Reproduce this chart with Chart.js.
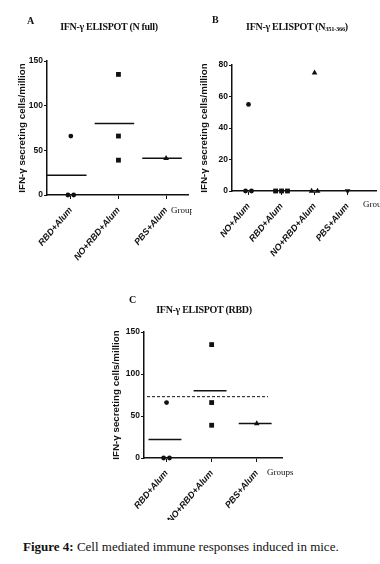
<!DOCTYPE html>
<html>
<head>
<meta charset="utf-8">
<script src="https://cdn.jsdelivr.net/npm/chart.js@4.4.1/dist/chart.umd.min.js"></script>
<style>
  html, body { margin: 0; padding: 0; background: #fff; overflow: hidden; }
  #wrap { position: relative; width: 380px; height: 564px; background: #fff; }
  canvas { position: absolute; }
  .txt { position: absolute; font-family: "Liberation Serif", "Times New Roman", serif; color: #111; white-space: nowrap; }
  .letter { font-weight: bold; font-size: 10px; }
  .title { font-weight: bold; font-size: 10px; letter-spacing: -0.3px; transform: translateX(-50%); }
  .groups { font-size: 9px; overflow: hidden; }
  sub { font-size: 6.5px; vertical-align: -1px; }
</style>
</head>
<body>
<div id="wrap">
  <canvas id="chartA" width="192" height="266" style="left:0;top:0"></canvas>
  <canvas id="chartB" width="190" height="266" style="left:190px;top:0"></canvas>
  <canvas id="chartC" width="200" height="250" style="left:100px;top:270px"></canvas>

  <div class="txt letter" style="left:27px;top:15px">A</div>
  <div class="txt title" style="left:109px;top:21px">IFN-γ ELISPOT (N full)</div>
  <div class="txt groups" style="left:171px;top:205px;width:21px">Groups</div>

  <div class="txt letter" style="left:212px;top:14px">B</div>
  <div class="txt title" style="left:297px;top:21px">IFN-γ ELISPOT (N<sub>351-366</sub>)</div>
  <div class="txt groups" style="left:363px;top:199px">Groups</div>

  <div class="txt letter" style="left:129px;top:294px">C</div>
  <div class="txt title" style="left:204px;top:304px">IFN-γ ELISPOT (RBD)</div>
  <div class="txt groups" style="left:267px;top:467px">Groups</div>

  <div class="txt" style="left:23px;top:539px;font-size:13px"><b>Figure 4:</b> Cell mediated immune responses induced in mice.</div>
</div>
<script>
// panel A - N full
const groupsA = ['RBD+Alum', 'NO+RBD+Alum', 'PBS+Alum'];
const valuesA = [[66, 0, 0], [135, 66, 39], [41]];
const yTicksA = [0, 50, 100, 150];

// panel B - N351-366
const groupsB = ['NO+Alum', 'RBD+Alum', 'NO+RBD+Alum', 'PBS+Alum'];
const valuesB = [[55, 0, 0], [0, 0, 0], [75, 0, 0], [0]];
const yTicksB = [0, 20, 40, 60, 80];

// panel C - RBD
const groupsC = ['RBD+Alum', 'NO+RBD+Alum', 'PBS+Alum'];
const valuesC = [[66, 0, 0], [135, 66, 39], [41]];
const yTicksC = [0, 50, 100, 150];
const cutoffC = 73;

const yTitle = 'IFN-γ secreting cells/million';
const tickFont = { family: 'Liberation Sans, Arial, sans-serif', size: 8.5, weight: 'bold' };
const labelFont = { family: 'Liberation Sans, Arial, sans-serif', size: 9, weight: 'bold', style: 'italic' };

// spread out identical values side by side, like prism does
function makePoints(values, jitter) {
    const pts = [];
    values.forEach((vals, i) => {
        const seen = {};
        vals.forEach(v => { seen[v] = (seen[v] || 0) + 1; });
        const used = {};
        vals.forEach(v => {
            const n = seen[v];
            const k = used[v] || 0;
            used[v] = k + 1;
            pts.push({ x: i + (k - (n - 1) / 2) * jitter, y: v, g: i });
        });
    });
    return pts;
}

function mean(arr) {
    return arr.reduce((a, b) => a + b, 0) / arr.length;
}

// dashed cut-off line across the plot
const cutoffPlugin = {
    id: 'cutoff',
    afterDatasetsDraw(chart, args, opts) {
        if (opts.value == null) return;
        const { ctx, chartArea, scales } = chart;
        const y = scales.y.getPixelForValue(opts.value);
        ctx.save();
        ctx.strokeStyle = '#111';
        ctx.lineWidth = 1;
        ctx.setLineDash([3, 2]);
        ctx.beginPath();
        ctx.moveTo(chartArea.left + 3, y);
        ctx.lineTo(chartArea.right - 14, y);
        ctx.stroke();
        ctx.restore();
    }
};

// marker size per shape so they look about the same on screen
const shapeRadius = { circle: 2.4, rect: 3.4, triangle: 3.3 };

function makeChart(id, groups, values, yTicks, cfg) {
    const pts = makePoints(values, cfg.jitter);
    const datasets = [{
        type: 'scatter',
        data: pts,
        pointStyle: pts.map(p => cfg.shapes[p.g]),
        rotation: pts.map(p => cfg.rotation ? cfg.rotation[p.g] : 0),
        pointRadius: pts.map(p => shapeRadius[cfg.shapes[p.g]]),
        backgroundColor: '#111',
        borderColor: '#111',
        borderWidth: 0,
        clip: false
    }];

    if (cfg.means) {
        values.forEach((vals, i) => {
            const m = mean(vals);
            datasets.push({
                type: 'line',
                data: [{ x: i - cfg.meanLeft, y: m }, { x: i + cfg.meanRight, y: m }],
                borderColor: '#111',
                borderWidth: 1.5,
                pointRadius: 0,
                clip: false
            });
        });
    }

    return new Chart(document.getElementById(id), {
        type: 'scatter',
        data: { datasets: datasets },
        options: {
            responsive: false,
            animation: false,
            events: [],
            layout: { padding: cfg.padding },
            plugins: {
                legend: { display: false },
                tooltip: { enabled: false },
                cutoff: { value: cfg.cutoff }
            },
            scales: {
                x: {
                    type: 'linear',
                    min: cfg.xmin,
                    max: cfg.xmax,
                    afterBuildTicks: axis => { axis.ticks = groups.map((g, i) => ({ value: i })); },
                    afterFit: axis => { axis.height = cfg.xHeight; },
                    ticks: {
                        autoSkip: false,
                        minRotation: 50,
                        maxRotation: 50,
                        padding: 6,
                        color: '#111',
                        font: labelFont,
                        callback: v => groups[v]
                    },
                    grid: { display: true, drawOnChartArea: false, drawTicks: true, tickLength: 4, color: '#111', lineWidth: 1 },
                    border: { display: true, color: '#111', width: 1.5 }
                },
                y: {
                    min: yTicks[0],
                    max: yTicks[yTicks.length - 1],
                    afterBuildTicks: axis => { axis.ticks = yTicks.map(v => ({ value: v })); },
                    afterFit: axis => { axis.width = cfg.yWidth; },
                    ticks: { padding: 1, color: '#111', font: tickFont },
                    grid: { display: true, drawOnChartArea: false, drawTicks: true, tickLength: 3, color: '#111', lineWidth: 1 },
                    border: { display: true, color: '#111', width: 1.5 },
                    title: {
                        display: true,
                        text: yTitle,
                        color: '#111',
                        padding: 0,
                        font: { family: 'Liberation Sans, Arial, sans-serif', size: 9.8, weight: 'bold' }
                    }
                }
            }
        },
        plugins: [cutoffPlugin]
    });
}

makeChart('chartA', groupsA, valuesA, yTicksA, {
    padding: { left: 16, top: 61, right: 2, bottom: 0 },
    yWidth: 31, xHeight: 71,
    xmin: -0.5, xmax: 2.46,
    jitter: 0.12,
    shapes: ['circle', 'rect', 'triangle'],
    means: true, meanLeft: 0.5, meanRight: 0.33
});

makeChart('chartB', groupsB, valuesB, yTicksB, {
    padding: { left: 8, top: 65, right: 1, bottom: 0 },
    yWidth: 34, xHeight: 75,
    xmin: -0.5, xmax: 3.86,
    jitter: 0.18,
    shapes: ['circle', 'rect', 'triangle', 'triangle'],
    rotation: [0, 0, 0, 180],
    means: false
});

makeChart('chartC', groupsC, valuesC, yTicksC, {
    padding: { left: 10, top: 62, right: 18, bottom: 0 },
    yWidth: 34, xHeight: 62,
    xmin: -0.5, xmax: 2.56,
    jitter: 0.13,
    shapes: ['circle', 'rect', 'triangle'],
    means: true, meanLeft: 0.4, meanRight: 0.33,
    cutoff: cutoffC
});
</script>
</body>
</html>
